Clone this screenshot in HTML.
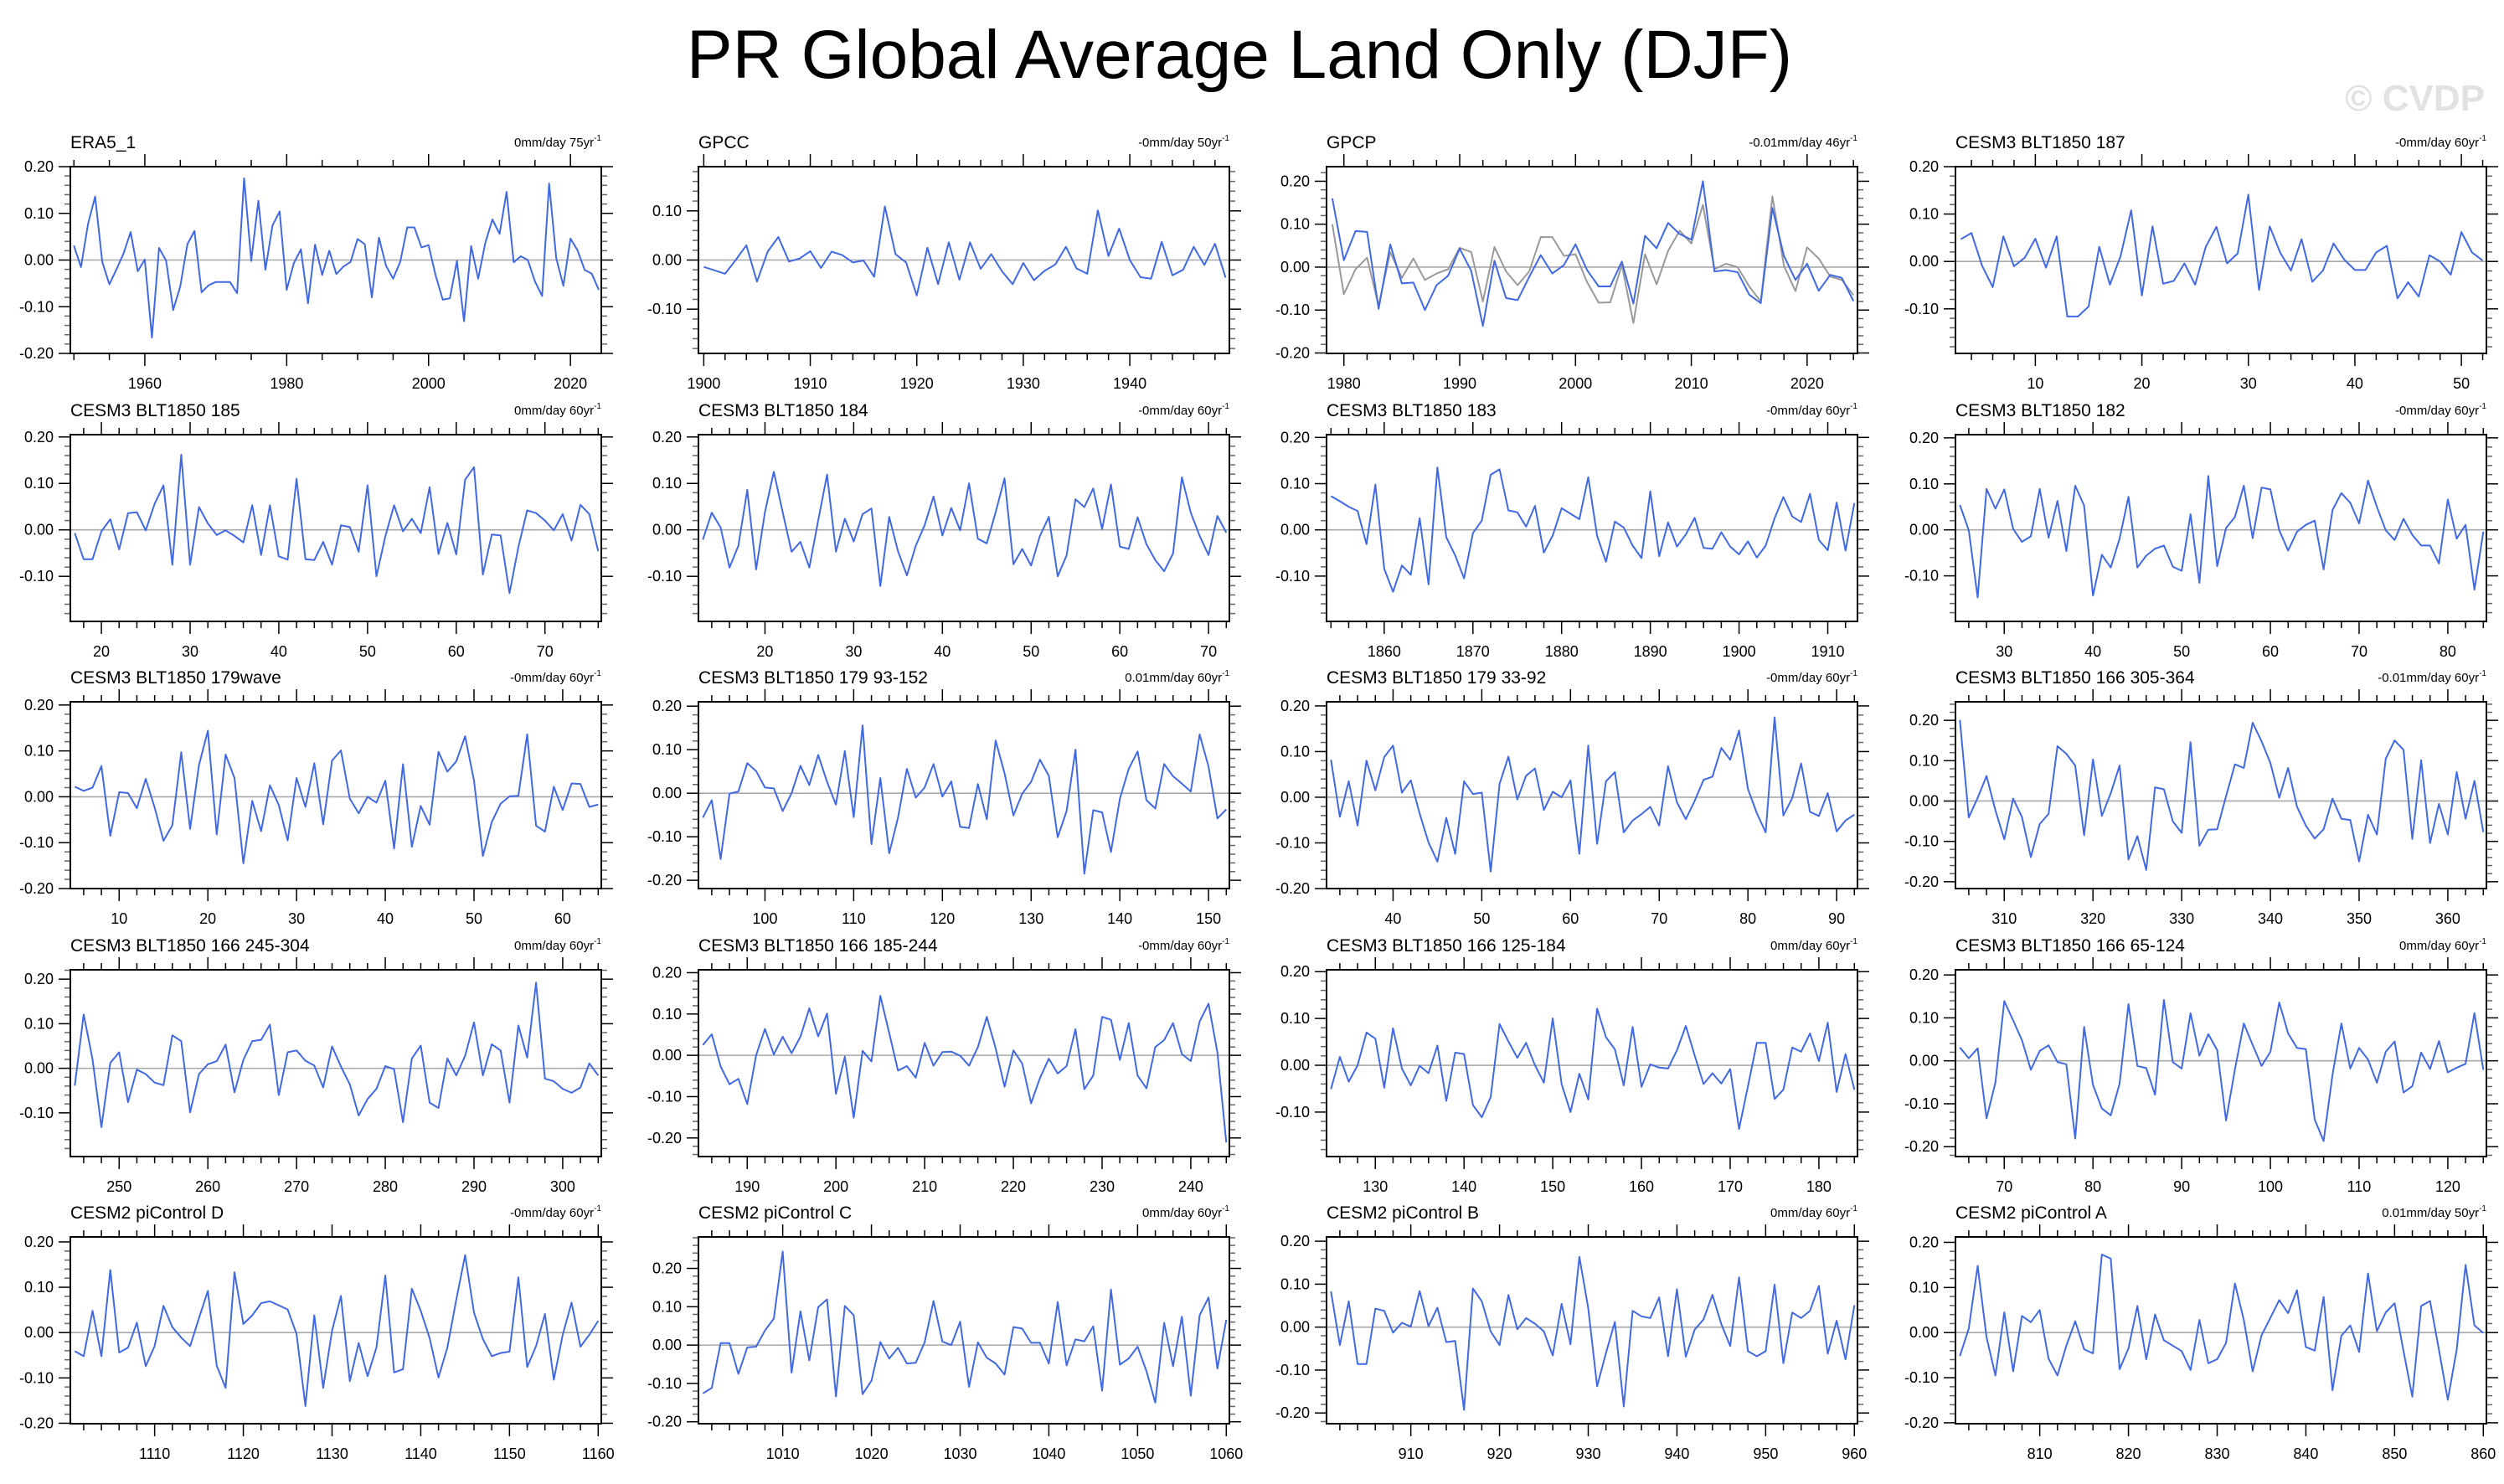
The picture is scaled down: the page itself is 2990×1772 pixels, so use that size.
<!DOCTYPE html>
<html><head><meta charset="utf-8"><style>
html,body{margin:0;padding:0;background:#fff;}
svg{display:block;font-family:"Liberation Sans",Arial,sans-serif;}
</style></head><body>
<svg id="chart" width="2990" height="1772" viewBox="0 0 2990 1772" xmlns="http://www.w3.org/2000/svg">
<rect x="0" y="0" width="2990" height="1772" fill="#fff"/>
<text x="1480" y="93" font-size="82" text-anchor="middle" fill="#000">PR Global Average Land Only (DJF)</text>
<text x="2967" y="132" font-size="44" font-weight="bold" text-anchor="end" fill="#e2e2e2">© CVDP</text>
</svg>
<script>
const panelTitles = ["ERA5_1","GPCC","GPCP","CESM3 BLT1850 187","CESM3 BLT1850 185","CESM3 BLT1850 184","CESM3 BLT1850 183","CESM3 BLT1850 182","CESM3 BLT1850 179wave","CESM3 BLT1850 179 93-152","CESM3 BLT1850 179 33-92","CESM3 BLT1850 166 305-364","CESM3 BLT1850 166 245-304","CESM3 BLT1850 166 185-244","CESM3 BLT1850 166 125-184","CESM3 BLT1850 166 65-124","CESM2 piControl D","CESM2 piControl C","CESM2 piControl B","CESM2 piControl A"];
const trendLabels = ["0mm/day 75yr","-0mm/day 50yr","-0.01mm/day 46yr","-0mm/day 60yr","0mm/day 60yr","-0mm/day 60yr","-0mm/day 60yr","-0mm/day 60yr","-0mm/day 60yr","0.01mm/day 60yr","-0mm/day 60yr","-0.01mm/day 60yr","0mm/day 60yr","-0mm/day 60yr","0mm/day 60yr","0mm/day 60yr","-0mm/day 60yr","0mm/day 60yr","0mm/day 60yr","0.01mm/day 50yr"];
const startYears = [1950,1900,1979,3,17,13,1854,25,5,93,33,305,245,185,125,65,1101,1001,901,801];
const yAxisMin = [-0.2,-0.19,-0.201,-0.194,-0.197,-0.197,-0.198,-0.199,-0.2,-0.219,-0.2,-0.217,-0.198,-0.245,-0.195,-0.223,-0.201,-0.205,-0.225,-0.202];
const yAxisMax = [0.2,0.19,0.234,0.2,0.205,0.205,0.206,0.207,0.207,0.21,0.209,0.246,0.221,0.207,0.204,0.212,0.211,0.282,0.21,0.212];
const xMajorStep = [20,10,10,10,10,10,10,10,10,10,10,10,10,10,10,10,10,10,10,10];
const xMinorStep = [5,2,2,2,2,2,2,2,2,2,2,2,2,2,2,2,2,2,2,2];

const era5Values = [0.031,-0.015,0.078,0.136,-0.004,-0.052,-0.02,0.014,0.06,-0.024,0.001,-0.166,0.026,-0.001,-0.107,-0.056,0.034,0.062,-0.069,-0.054,-0.047,-0.047,-0.047,-0.071,0.175,-0.002,0.127,-0.021,0.074,0.104,-0.064,-0.007,0.023,-0.093,0.033,-0.032,0.02,-0.03,-0.014,-0.004,0.045,0.034,-0.08,0.048,-0.012,-0.04,-0.004,0.07,0.07,0.027,0.032,-0.033,-0.085,-0.082,-0.002,-0.131,0.03,-0.04,0.037,0.087,0.056,0.146,-0.005,0.008,0,-0.046,-0.077,0.164,0.004,-0.055,0.046,0.021,-0.021,-0.029,-0.064];
const gpccValues = [-0.014,-0.021,-0.028,0.0,0.03,-0.044,0.017,0.047,-0.003,0.003,0.018,-0.016,0.017,0.01,-0.005,-0.001,-0.034,0.109,0.012,-0.005,-0.072,0.025,-0.049,0.036,-0.04,0.036,-0.018,0.012,-0.023,-0.049,-0.006,-0.041,-0.022,-0.009,0.027,-0.017,-0.028,0.101,0.008,0.064,0.0,-0.035,-0.038,0.037,-0.031,-0.02,0.027,-0.01,0.033,-0.036];
const gpcpValues = [0.16,0.016,0.084,0.082,-0.097,0.053,-0.038,-0.036,-0.1,-0.042,-0.02,0.043,-0.009,-0.137,0.015,-0.072,-0.077,-0.023,0.028,-0.015,0.005,0.053,-0.007,-0.045,-0.045,0.013,-0.085,0.073,0.044,0.103,0.077,0.064,0.2,-0.01,-0.007,-0.012,-0.064,-0.084,0.138,0.026,-0.03,0.008,-0.055,-0.018,-0.025,-0.079];
const gpcpReferenceValues = [0.1,-0.063,-0.005,0.022,-0.09,0.035,-0.025,0.02,-0.03,-0.015,-0.005,0.045,0.035,-0.08,0.047,-0.01,-0.042,-0.01,0.07,0.07,0.026,0.03,-0.035,-0.083,-0.082,0.005,-0.13,0.03,-0.04,0.038,0.085,0.055,0.145,-0.005,0.008,0,-0.045,-0.08,0.165,0.003,-0.056,0.046,0.02,-0.022,-0.03,-0.065];
const blt187Values = [0.047,0.06,-0.009,-0.054,0.053,-0.01,0.008,0.048,-0.013,0.053,-0.116,-0.116,-0.095,0.031,-0.049,0.011,0.108,-0.072,0.074,-0.047,-0.041,-0.004,-0.049,0.031,0.073,-0.004,0.017,0.141,-0.06,0.074,0.018,-0.019,0.047,-0.043,-0.019,0.038,0.004,-0.018,-0.018,0.019,0.033,-0.078,-0.044,-0.074,0.013,0,-0.028,0.062,0.019,0.002];
const blt185Values = [-0.007,-0.063,-0.063,-0.003,0.023,-0.042,0.036,0.038,-0.001,0.056,0.096,-0.075,0.162,-0.075,0.049,0.014,-0.011,-0.001,-0.013,-0.027,0.053,-0.054,0.053,-0.057,-0.064,0.11,-0.063,-0.065,-0.026,-0.075,0.01,0.006,-0.047,0.096,-0.1,-0.014,0.053,-0.003,0.024,-0.007,0.092,-0.052,0.015,-0.053,0.108,0.135,-0.096,-0.01,-0.012,-0.136,-0.037,0.042,0.036,0.02,-0.001,0.034,-0.023,0.054,0.034,-0.046];
const blt184Values = [-0.021,0.037,0.005,-0.081,-0.034,0.086,-0.085,0.038,0.125,0.038,-0.047,-0.026,-0.081,0.02,0.119,-0.047,0.024,-0.025,0.034,0.046,-0.121,0.028,-0.046,-0.098,-0.034,0.01,0.072,-0.012,0.047,-0.001,0.1,-0.019,-0.029,0.038,0.111,-0.074,-0.041,-0.077,-0.013,0.028,-0.1,-0.055,0.066,0.049,0.089,0.002,0.098,-0.036,-0.041,0.027,-0.031,-0.065,-0.089,-0.051,0.113,0.037,-0.013,-0.054,0.03,-0.006];
const blt183Values = [0.073,0.062,0.05,0.041,-0.031,0.098,-0.084,-0.134,-0.077,-0.097,0.025,-0.118,0.135,-0.016,-0.055,-0.105,-0.007,0.02,0.119,0.131,0.042,0.038,0.007,0.052,-0.049,-0.012,0.047,0.035,0.023,0.114,-0.013,-0.069,0.018,0.005,-0.034,-0.061,0.083,-0.057,0.016,-0.036,-0.01,0.026,-0.039,-0.041,-0.005,-0.036,-0.053,-0.025,-0.06,-0.034,0.025,0.071,0.029,0.017,0.078,-0.022,-0.044,0.059,-0.045,0.058];
const blt182Values = [0.054,-0.001,-0.147,0.089,0.046,0.088,0.002,-0.026,-0.014,0.089,-0.017,0.063,-0.046,0.096,0.053,-0.143,-0.054,-0.082,-0.019,0.072,-0.082,-0.056,-0.041,-0.034,-0.08,-0.089,0.034,-0.115,0.117,-0.079,0.004,0.028,0.096,-0.018,0.092,0.088,-0.001,-0.045,-0.004,0.011,0.02,-0.086,0.043,0.08,0.059,0.014,0.107,0.05,-0.001,-0.022,0.024,-0.011,-0.034,-0.034,-0.073,0.066,-0.019,0.011,-0.13,-0.004];
const blt179waveValues = [0.022,0.013,0.02,0.067,-0.085,0.01,0.008,-0.025,0.039,-0.023,-0.096,-0.062,0.097,-0.07,0.069,0.144,-0.082,0.092,0.041,-0.145,-0.009,-0.075,0.025,-0.018,-0.095,0.041,-0.022,0.073,-0.06,0.079,0.101,-0.004,-0.036,0,-0.013,0.035,-0.113,0.071,-0.109,-0.02,-0.061,0.098,0.055,0.077,0.132,0.035,-0.129,-0.055,-0.015,0.001,0.002,0.136,-0.063,-0.076,0.022,-0.029,0.029,0.028,-0.022,-0.017];
const blt179bValues = [-0.056,-0.016,-0.151,-0.001,0.004,0.069,0.051,0.013,0.011,-0.041,0,0.063,0.019,0.088,0.026,-0.026,0.097,-0.055,0.156,-0.117,0.035,-0.138,-0.056,0.056,-0.01,0.013,0.067,-0.008,0.027,-0.077,-0.08,0.021,-0.06,0.121,0.046,-0.051,-0.001,0.026,0.077,0.04,-0.101,-0.041,0.1,-0.185,-0.039,-0.044,-0.135,-0.013,0.056,0.096,-0.016,-0.035,0.067,0.039,0.022,0.004,0.135,0.061,-0.058,-0.037];
const blt179aValues = [0.082,-0.043,0.035,-0.062,0.08,0.015,0.088,0.113,0.01,0.037,-0.036,-0.099,-0.141,-0.045,-0.124,0.035,0.007,0.01,-0.163,0.029,0.089,-0.005,0.047,0.063,-0.028,0.012,0,0.037,-0.124,0.113,-0.102,0.035,0.055,-0.077,-0.051,-0.037,-0.021,-0.062,0.068,-0.011,-0.048,-0.008,0.038,0.045,0.108,0.082,0.146,0.018,-0.035,-0.077,0.175,-0.04,-0.002,0.074,-0.032,-0.041,0.009,-0.075,-0.051,-0.038];
const blt166dValues = [0.201,-0.041,0.008,0.062,-0.023,-0.095,0.006,-0.04,-0.139,-0.057,-0.032,0.136,0.117,0.088,-0.085,0.103,-0.037,0.019,0.088,-0.145,-0.087,-0.171,0.034,0.029,-0.05,-0.079,0.146,-0.111,-0.071,-0.07,0.012,0.091,0.082,0.194,0.148,0.094,0.008,0.082,-0.014,-0.061,-0.093,-0.07,0.006,-0.044,-0.047,-0.15,-0.034,-0.083,0.105,0.15,0.127,-0.094,0.101,-0.104,-0.007,-0.083,0.072,-0.044,0.05,-0.077];
const blt166cValues = [-0.039,0.121,0.02,-0.132,0.012,0.036,-0.076,-0.003,-0.013,-0.032,-0.038,0.074,0.061,-0.099,-0.013,0.009,0.016,0.053,-0.054,0.019,0.061,0.064,0.098,-0.06,0.036,0.04,0.017,0.006,-0.043,0.049,0.004,-0.036,-0.106,-0.069,-0.046,0.005,-0.002,-0.121,0.022,0.051,-0.077,-0.089,0.022,-0.016,0.028,0.103,-0.016,0.054,0.04,-0.077,0.096,0.024,0.192,-0.023,-0.029,-0.046,-0.055,-0.043,0.011,-0.016];
const blt166bValues = [0.025,0.051,-0.027,-0.07,-0.057,-0.118,0,0.064,0.002,0.045,0.005,0.045,0.114,0.046,0.101,-0.093,-0.003,-0.151,0.011,-0.015,0.144,0.054,-0.037,-0.026,-0.054,0.03,-0.025,0.008,0.009,-0.001,-0.025,0.02,0.093,0.017,-0.076,0.012,-0.02,-0.116,-0.055,-0.008,-0.044,-0.026,0.063,-0.082,-0.049,0.093,0.086,-0.011,0.078,-0.049,-0.08,0.02,0.037,0.078,0.003,-0.014,0.082,0.125,0.007,-0.211];
const blt166aValues = [-0.051,0.018,-0.035,0,0.07,0.057,-0.048,0.079,-0.007,-0.043,-0.001,-0.017,0.042,-0.076,0.027,0.024,-0.085,-0.111,-0.068,0.088,0.051,0.016,0.048,0,-0.037,0.1,-0.04,-0.1,-0.018,-0.073,0.121,0.06,0.034,-0.043,0.082,-0.046,0.002,-0.005,-0.007,0.032,0.084,0.021,-0.04,-0.017,-0.039,-0.008,-0.136,-0.045,0.048,0.048,-0.072,-0.052,0.038,0.029,0.068,0.009,0.091,-0.057,0.024,-0.052];
const blt166eValues = [0.031,0.006,0.029,-0.134,-0.051,0.139,0.094,0.048,-0.021,0.023,0.036,-0.003,-0.008,-0.181,0.079,-0.056,-0.111,-0.127,-0.053,0.132,-0.012,-0.017,-0.079,0.142,-0.003,-0.018,0.111,0.012,0.062,0.025,-0.139,-0.02,0.087,0.037,-0.012,0.021,0.136,0.064,0.03,0.027,-0.137,-0.187,-0.033,0.087,-0.018,0.03,0.003,-0.051,0.021,0.045,-0.074,-0.059,0.019,-0.019,0.046,-0.027,-0.016,-0.007,0.111,-0.021];
const piControlDValues = [-0.041,-0.052,0.048,-0.052,0.138,-0.044,-0.033,0.022,-0.074,-0.03,0.059,0.012,-0.011,-0.03,0.032,0.092,-0.073,-0.122,0.133,0.019,0.038,0.065,0.069,0.06,0.051,-0.003,-0.162,0.038,-0.122,0.004,0.081,-0.107,-0.023,-0.096,-0.033,0.126,-0.088,-0.081,0.097,0.048,-0.012,-0.099,-0.033,0.072,0.171,0.044,-0.014,-0.052,-0.045,-0.042,0.122,-0.076,-0.03,0.041,-0.104,-0.005,0.066,-0.031,-0.005,0.026];
const piControlCValues = [-0.126,-0.112,0.005,0.005,-0.075,-0.006,-0.004,0.038,0.069,0.244,-0.072,0.088,-0.04,0.099,0.119,-0.134,0.102,0.078,-0.128,-0.093,0.008,-0.035,-0.007,-0.048,-0.046,0.007,0.115,0.009,0,0.061,-0.109,0.007,-0.033,-0.048,-0.077,0.047,0.043,0.006,0.006,-0.048,0.112,-0.053,0.015,0.01,0.049,-0.119,0.145,-0.051,-0.035,-0.004,-0.068,-0.15,0.058,-0.055,0.074,-0.132,0.078,0.124,-0.061,0.066];
const piControlBValues = [0.083,-0.042,0.06,-0.086,-0.086,0.043,0.038,-0.013,0.01,0.001,0.084,0.002,0.045,-0.035,-0.032,-0.193,0.09,0.06,-0.01,-0.042,0.075,-0.005,0.021,0.008,-0.01,-0.066,0.054,-0.04,0.164,0.044,-0.138,-0.06,0.012,-0.185,0.038,0.025,0.021,0.069,-0.068,0.088,-0.069,-0.006,0.018,0.075,0.007,-0.044,0.116,-0.056,-0.068,-0.056,0.099,-0.084,0.034,0.021,0.038,0.096,-0.062,0.015,-0.075,0.051];
const piControlAValues = [-0.052,0.009,0.148,-0.01,-0.095,0.045,-0.086,0.037,0.023,0.05,-0.058,-0.095,-0.029,0.025,-0.037,-0.046,0.173,0.164,-0.081,-0.035,0.059,-0.059,0.04,-0.017,-0.029,-0.041,-0.083,0.028,-0.068,-0.059,-0.023,0.109,0.028,-0.086,-0.006,0.033,0.072,0.043,0.094,-0.032,-0.04,0.079,-0.128,-0.007,0.016,-0.043,0.131,0.003,0.045,0.065,-0.041,-0.142,0.059,0.07,-0.038,-0.149,-0.038,0.15,0.016,-0.001];

const seriesList = [era5Values,gpccValues,gpcpValues,blt187Values,blt185Values,blt184Values,blt183Values,blt182Values,blt179waveValues,blt179bValues,blt179aValues,blt166dValues,blt166cValues,blt166bValues,blt166aValues,blt166eValues,piControlDValues,piControlCValues,piControlBValues,piControlAValues];

const NS = "http://www.w3.org/2000/svg";
const svg = document.getElementById("chart");
const colLefts = [84, 834, 1584, 2335];
const rowTops = [199, 519, 838, 1158, 1477];
const PW = 634, PH = 223;
const BLUE = "#4169e1";

function mk(tag, attrs, parent) {
  const e = document.createElementNS(NS, tag);
  for (const k in attrs) e.setAttribute(k, attrs[k]);
  parent.appendChild(e);
  return e;
}
function fmt(v) {
  const r = Math.round(v * 100) / 100;
  return (r < 0 ? "-" : "") + Math.abs(r).toFixed(2);
}

for (let p = 0; p < 20; p++) {
  const left = colLefts[p % 4], top = rowTops[Math.floor(p / 4)];
  const vals = seriesList[p];
  const s0 = startYears[p], s1 = s0 + vals.length - 1;
  const x0 = s0 - 0.5, x1 = s1 + 0.35;
  const y0 = yAxisMin[p], y1 = yAxisMax[p];
  const sx = v => left + (v - x0) / (x1 - x0) * PW;
  const sy = v => top + (y1 - v) / (y1 - y0) * PH;

  const g = mk("g", {}, svg);
  
  

  const t = mk("text", {x: left, y: top - 22, "font-size": 21, fill: "#000"}, g);
  t.textContent = panelTitles[p];
  
  

  const st = mk("text", {x: left + PW, y: top - 24, "font-size": 15, "text-anchor": "end", fill: "#000"}, g);
  st.textContent = trendLabels[p];
  const sup = mk("tspan", {dy: -7, "font-size": 10}, st);
  sup.textContent = "-1";
  
  

  const yTicks = mk("g", {stroke: "#000", "stroke-width": 1.5}, g);
  
  
  for (let k = Math.ceil(y0 * 50 - 1e-6); k <= Math.floor(y1 * 50 + 1e-6); k++) {
    const v = k / 50, yy = sy(v);
    const major = (k % 5 === 0);
    const len = major ? 14 : 7;
    mk("line", {x1: left - len, x2: left, y1: yy, y2: yy, stroke: major ? "#000" : "#666"}, yTicks);
    mk("line", {x1: left + PW, x2: left + PW + len, y1: yy, y2: yy, stroke: major ? "#000" : "#666"}, yTicks);
    if (major) {
      const lb = mk("text", {x: left - 20, y: yy + 6, "font-size": 18, "text-anchor": "end", fill: "#000", stroke: "none"}, g);
      lb.textContent = fmt(v);
      
      
    }
  }
  const xTicks = mk("g", {stroke: "#000", "stroke-width": 1.5}, g);
  
  
  const mi = xMinorStep[p], ma = xMajorStep[p];
  for (let v = Math.ceil(x0 / mi) * mi; v <= x1; v += mi) {
    const xx = sx(v);
    const major = (v % ma === 0);
    const len = major ? 15 : 8;
    mk("line", {x1: xx, x2: xx, y1: top + PH, y2: top + PH + len}, xTicks);
    mk("line", {x1: xx, x2: xx, y1: top - len, y2: top}, xTicks);
    if (major) {
      const lb = mk("text", {x: xx, y: top + PH + 42, "font-size": 18, "text-anchor": "middle", fill: "#000", stroke: "none"}, g);
      lb.textContent = String(v);
      
      
    }
  }
  const zl = mk("line", {x1: left, x2: left + PW, y1: sy(0), y2: sy(0), stroke: "#a8a8a8", "stroke-width": 1.6}, g);
  
  

  if (p === 2) {
    const ref = mk("polyline", {fill: "none", stroke: "#999", "stroke-width": 2, "stroke-linejoin": "round",
      points: gpcpReferenceValues.map((v, i) => sx(s0 + i).toFixed(1) + "," + sy(v).toFixed(1)).join(" ")}, g);
    
    
  }
  const line = mk("polyline", {fill: "none", stroke: BLUE, "stroke-width": 2, "stroke-linejoin": "round",
    points: vals.map((v, i) => sx(s0 + i).toFixed(1) + "," + sy(v).toFixed(1)).join(" ")}, g);
  
  

  const fr = mk("rect", {x: left, y: top, width: PW, height: PH, fill: "none", stroke: "#000", "stroke-width": 2}, g);
  
  
}
</script>
</body></html>
